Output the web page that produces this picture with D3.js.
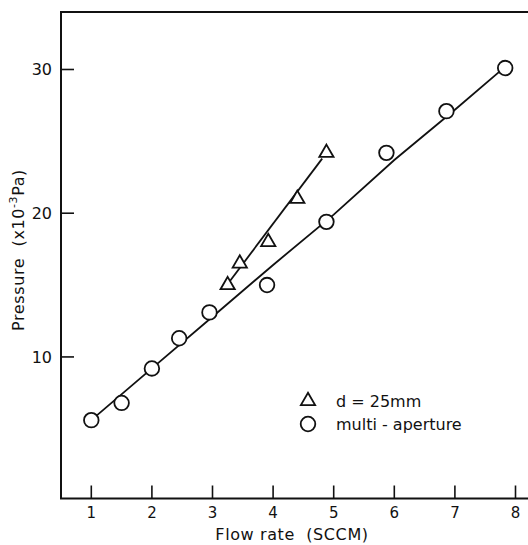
<!DOCTYPE html>
<html>
<head>
<meta charset="utf-8">
<script src="https://cdn.jsdelivr.net/npm/d3@7"></script>
<style>
  html, body { margin: 0; padding: 0; background: #fff; }
  svg { display: block; }
  text { font-family: 'DejaVu Sans', sans-serif; fill: #111; white-space: pre; }
</style>
</head>
<body>
<div id="chart"></div>
<script>
/* ---- data ---- */
const xTicks = [1, 2, 3, 4, 5, 6, 7, 8];
const yTicks = [10, 20, 30];

// multi-aperture (circles)
const multiX = [1.0, 1.5, 2.0, 2.45, 2.95, 3.9, 4.88, 5.87, 6.86, 7.83];
const multiY = [5.6, 6.8, 9.2, 11.3, 13.1, 15.0, 19.4, 24.2, 27.1, 30.1];
const multiFitX = [1.0, 2.0, 3.0, 4.0, 5.0, 6.0, 7.0, 7.75];
const multiFitY = [5.6, 9.2, 12.8, 16.4, 19.9, 23.7, 27.2, 29.9];

// d = 25mm (triangles)
const d25X = [3.25, 3.45, 3.92, 4.40, 4.88];
const d25Y = [15.0, 16.5, 18.0, 21.0, 24.2];
const d25FitX = [3.22, 4.81];
const d25FitY = [14.9, 23.8];

const legendLabels = ['d = 25mm', 'multi - aperture'];

/* ---- chart ---- */
const W = 528, H = 545;
const margin = { top: 12, right: 0, bottom: 46, left: 61 };

const svg = d3.select('#chart').append('svg')
  .attr('width', W)
  .attr('height', H);

const x = d3.scaleLinear()
  .domain([0.5, 8.7])
  .range([margin.left, margin.left + 8.2 * 60.6]);

const y = d3.scaleLinear()
  .domain([0.15, 34])
  .range([H - margin.bottom - 0.5, margin.top]);

const x0 = margin.left, y0 = y.range()[0];

// Frame: left, bottom, top
svg.append('path')
  .attr('d', `M${W},${margin.top}H${x0}V${y0}H${W}`)
  .attr('fill', 'none')
  .attr('stroke', '#111')
  .attr('stroke-width', 2);

// X ticks (inward)
svg.selectAll('.xtick')
  .data(xTicks)
  .join('line')
  .attr('x1', d => x(d)).attr('x2', d => x(d))
  .attr('y1', y0).attr('y2', y0 - 13)
  .attr('stroke', '#111')
  .attr('stroke-width', 1.6);

svg.selectAll('.xlab')
  .data(xTicks)
  .join('text')
  .attr('x', d => x(d))
  .attr('y', y0 + 19)
  .attr('text-anchor', 'middle')
  .attr('font-size', '15px')
  .text(d => d);

// Y ticks (inward)
svg.selectAll('.ytick')
  .data(yTicks)
  .join('line')
  .attr('x1', x0).attr('x2', x0 + 13)
  .attr('y1', d => y(d)).attr('y2', d => y(d))
  .attr('stroke', '#111')
  .attr('stroke-width', 1.6);

svg.selectAll('.ylab')
  .data(yTicks)
  .join('text')
  .attr('x', x0 - 9)
  .attr('y', d => y(d))
  .attr('dy', '0.36em')
  .attr('text-anchor', 'end')
  .attr('font-size', '16px')
  .text(d => d);

// Axis titles
svg.append('text')
  .attr('x', 292)
  .attr('y', 540)
  .attr('text-anchor', 'middle')
  .attr('font-size', '16px')
  .attr('letter-spacing', '0.6px')
  .text('Flow rate  (SCCM)');

const yt = svg.append('text')
  .attr('transform', 'translate(24,250) rotate(-90)')
  .attr('text-anchor', 'middle')
  .attr('font-size', '16px')
  .attr('letter-spacing', '0.6px');
yt.append('tspan').text('Pressure  (x10');
yt.append('tspan').attr('dy', '-7').attr('font-size', '11px').text('-3');
yt.append('tspan').attr('dy', '7').text('Pa)');

// Fit lines
const line = d3.line().x(d => x(d[0])).y(d => y(d[1]));

svg.append('path')
  .datum(d3.zip(multiFitX, multiFitY))
  .attr('d', line)
  .attr('fill', 'none')
  .attr('stroke', '#111')
  .attr('stroke-width', 1.8);

svg.append('path')
  .datum(d3.zip(d25FitX, d25FitY))
  .attr('d', line)
  .attr('fill', 'none')
  .attr('stroke', '#111')
  .attr('stroke-width', 1.8);

// Markers
const tri = d3.symbol().type(d3.symbolTriangle).size(88);

svg.selectAll('.circ')
  .data(d3.zip(multiX, multiY))
  .join('circle')
  .attr('cx', d => x(d[0]))
  .attr('cy', d => y(d[1]))
  .attr('r', 7.3)
  .attr('fill', '#fff')
  .attr('stroke', '#111')
  .attr('stroke-width', 1.8);

svg.selectAll('.tri')
  .data(d3.zip(d25X, d25Y))
  .join('path')
  .attr('d', tri)
  .attr('transform', d => `translate(${x(d[0])},${y(d[1])})`)
  .attr('fill', '#fff')
  .attr('stroke', '#111')
  .attr('stroke-width', 1.8);

// Legend
const lg = svg.append('g').attr('transform', 'translate(308,401)');
lg.append('path')
  .attr('d', tri)
  .attr('fill', '#fff')
  .attr('stroke', '#111')
  .attr('stroke-width', 1.8);
lg.append('circle')
  .attr('cy', 23)
  .attr('r', 7.3)
  .attr('fill', '#fff')
  .attr('stroke', '#111')
  .attr('stroke-width', 1.8);
lg.selectAll('.lt')
  .data(legendLabels)
  .join('text')
  .attr('x', 28)
  .attr('y', (d, i) => i * 23)
  .attr('dy', '0.36em')
  .attr('font-size', '16px')
  .text(d => d);
</script>
</body>
</html>
